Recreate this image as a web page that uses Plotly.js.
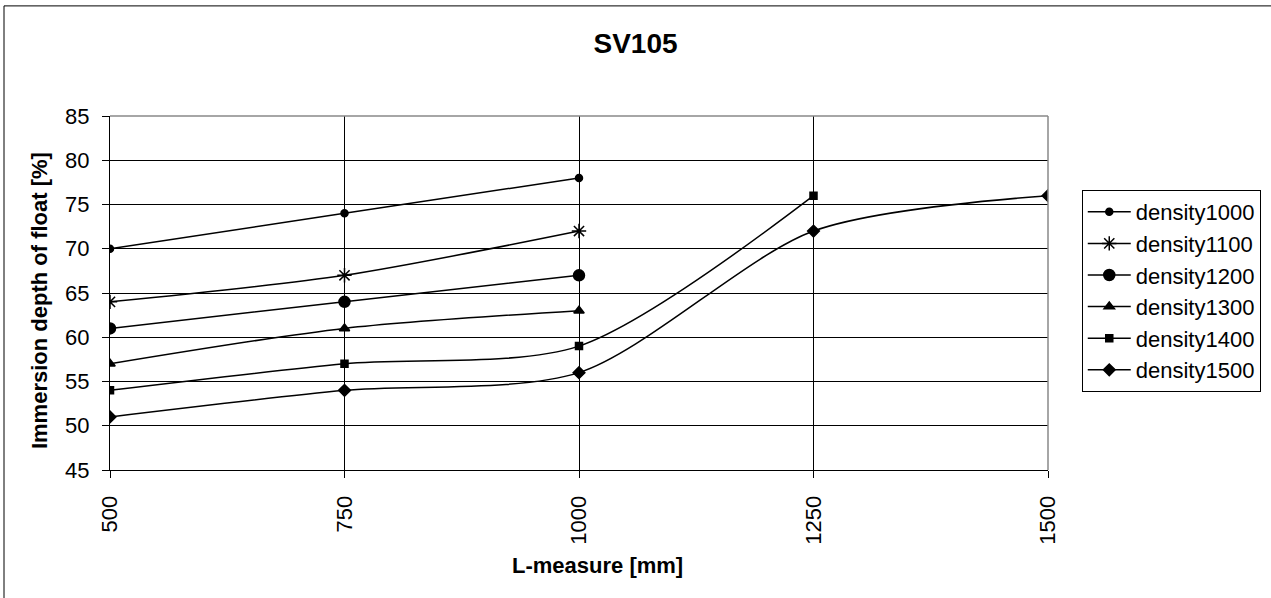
<!DOCTYPE html>
<html><head><meta charset="utf-8">
<script src="https://cdn.plot.ly/plotly-3.0.1.min.js"></script>
<style>html,body{margin:0;padding:0;background:#fff}</style>
</head><body>
<div id="chart" style="width:1271px;height:598px"></div>
<script>
const xValues = [500, 750, 1000, 1250, 1500];
const seriesNames = ["density1000","density1100","density1200","density1300","density1400","density1500"];
const density1000 = [70, 74, 78];
const density1100 = [64, 67, 72];
const density1200 = [61, 64, 67];
const density1300 = [57, 61, 63];
const density1400 = [54, 57, 59, 76];
const density1500 = [51, 54, 56, 72, 76];
const xTickLabels = ["500","750","1000","1250","1500"];

const seriesData = [density1000, density1100, density1200, density1300, density1400, density1500];
const symbols = ["circle","asterisk-open","circle","triangle-up","square","diamond"];
const sizes = [7, 12, 11, 9, 7, 9];

const FONT = "Liberation Sans, Arial, sans-serif";

const traces = seriesData.map((vals, i) => ({
  type: "scatter",
  mode: "lines+markers",
  name: seriesNames[i],
  x: xValues.slice(0, vals.length),
  y: vals,
  line: {color: "#000", width: 1.5, shape: "spline", smoothing: 0.8},
  marker: {symbol: symbols[i], size: sizes[i], color: "#000", line: {color: "#000", width: 1.5}}
}));

const layout = {
  width: 1271, height: 598,
  margin: {l: 110, r: 223, t: 116, b: 128, autoexpand: false},
  paper_bgcolor: "#fff", plot_bgcolor: "#fff",
  font: {family: FONT, size: 22, color: "#000"},
  title: {text: "<b>SV105</b>", font: {size: 28, family: FONT}, x: 0.5, xref: "container", xanchor: "center", y: 0.928, yref: "container", yanchor: "middle"},
  xaxis: {
    range: [500, 1500], tickvals: xValues, ticktext: xTickLabels, tickangle: -90,
    showgrid: true, gridcolor: "#000", gridwidth: 1,
    showline: true, linecolor: "#000", linewidth: 1,
    ticks: "outside", ticklen: 7, tickcolor: "#000",
    ticklabelstandoff: 9,
    zeroline: false, automargin: false,
    tickfont: {size: 22}
  },
  yaxis: {
    range: [45, 85], dtick: 5, tick0: 45,
    showgrid: true, gridcolor: "#000", gridwidth: 1,
    showline: true, linecolor: "#000", linewidth: 1,
    ticks: "outside", ticklen: 7, tickcolor: "#000",
    ticklabelstandoff: 8,
    zeroline: false, automargin: false,
    tickfont: {size: 22}
  },
  legend: {
    x: 1.036, xanchor: "left", y: 0.791, yanchor: "top",
    bordercolor: "#000", borderwidth: 1, bgcolor: "#fff",
    font: {size: 22, family: FONT}, tracegroupgap: 0, itemwidth: 43
  },
  annotations: [
    {text: "<b>L-measure [mm]</b>", xref: "paper", yref: "paper", x: 0.520, y: -0.271,
     xanchor: "center", yanchor: "middle", showarrow: false, font: {size: 22, family: FONT}},
    {text: "<b>Immersion depth of float [%]</b>", xref: "paper", yref: "paper", x: -0.0757, y: 0.48,
     xanchor: "center", yanchor: "middle", textangle: -90, showarrow: false, font: {size: 22, family: FONT}}
  ],
  shapes: [
    {type: "rect", xref: "paper", yref: "paper", x0: -0.113, x1: 1.4, y0: -0.6, y1: 1.311,
     line: {color: "#000", width: 1}, fillcolor: "rgba(0,0,0,0)", layer: "below"},
    {type: "line", xref: "paper", yref: "paper", x0: 0, x1: 1, y0: 1, y1: 1, line: {color: "#888", width: 1.5}},
    {type: "line", xref: "paper", yref: "paper", x0: 1, x1: 1, y0: 0, y1: 1, line: {color: "#888", width: 1.5}}
  ],
  showlegend: true
};

Plotly.newPlot("chart", traces, layout, {displayModeBar: false, staticPlot: true});
</script>
</body></html>
